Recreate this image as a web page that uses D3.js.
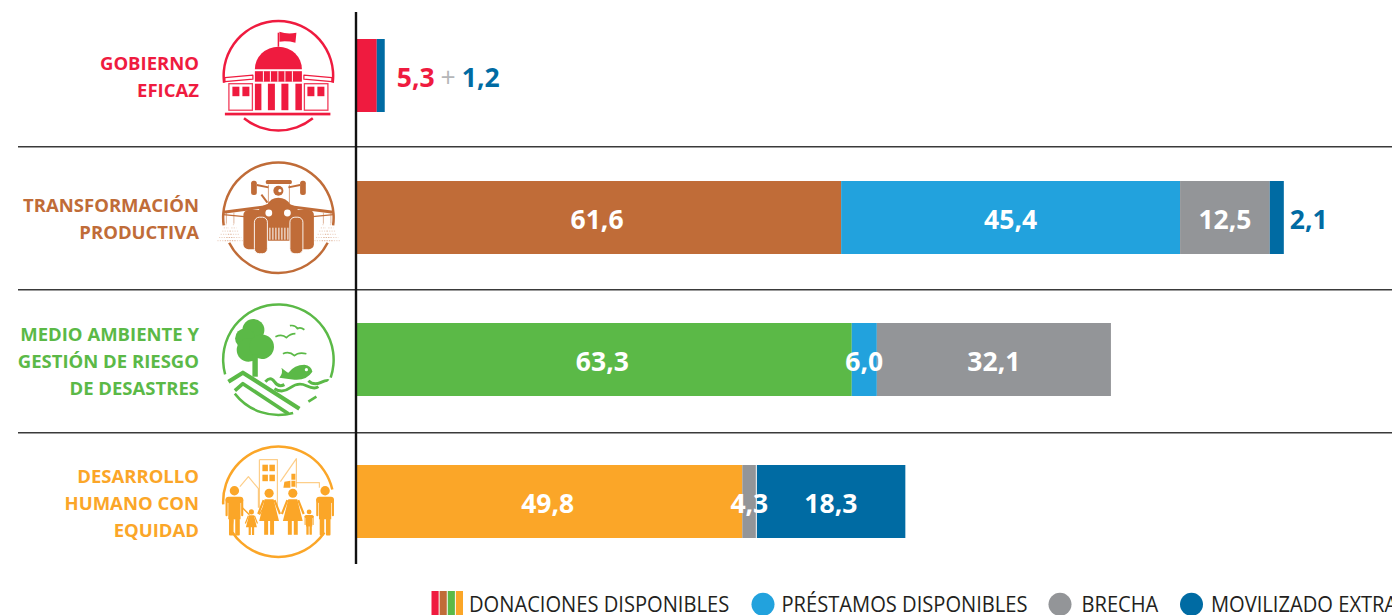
<!DOCTYPE html>
<html>
<head>
<meta charset="utf-8">
<script src="https://cdn.jsdelivr.net/npm/d3@7"></script>
<style>
  html, body { margin: 0; padding: 0; background: #fff; overflow: hidden; }
  svg { display: block; font-family: "Open Sans", sans-serif; }
</style>
</head>
<body>
<svg id="chart"></svg>
<script>
const categories = ["gobierno", "transformacion", "medio", "desarrollo"];
const categoryLines = [
  ["GOBIERNO", "EFICAZ"],
  ["TRANSFORMACIÓN", "PRODUCTIVA"],
  ["MEDIO AMBIENTE Y", "GESTIÓN DE RIESGO", "DE DESASTRES"],
  ["DESARROLLO", "HUMANO CON", "EQUIDAD"]
];
const categoryColors = ["#ef1b3f", "#c06c38", "#5bb947", "#fba628"];

// printed values
const donaciones = [5.3, 61.6, 63.3, 49.8];
const prestamos = [0, 45.4, 6.0, 0];
const brecha = [0, 12.5, 32.1, 4.3];
const movilizado = [1.2, 2.1, 0, 18.3];

// the bars in the original are not drawn to the printed numbers, these are the
// lengths as they read off the picture, same units
const donacionesBar = [2.6, 63.7, 65.1, 50.7];
const prestamosBar = [0, 44.6, 3.3, 0];
const brechaBar = [0, 11.8, 30.8, 1.85];
const movilizadoBar = [1.05, 1.85, 0, 19.6];

const legendLabels = ["DONACIONES DISPONIBLES", "PRÉSTAMOS DISPONIBLES", "BRECHA", "MOVILIZADO EXTRA"];

const blue = "#22a2dd", gray = "#939598", darkBlue = "#006ba3";

const width = 1392;
const height = 615;
const svg = d3.select("#chart").attr("width", width).attr("height", height).attr("viewBox", `0 0 ${width} ${height}`);

const x = d3.scaleLinear().domain([0, 130]).range([357, 357 + 130 * 7.6]);
const y = d3.scaleBand().domain(categories).range([39, 538]).paddingInner(69 / 142);
const rowCenter = (c) => y(c) + y.bandwidth() / 2;

const comma = d3.formatLocale({ decimal: ",", thousands: ".", grouping: [3], currency: ["", ""] }).format(".1f");

const rows = categories.map((c, i) => ({
  category: c,
  donaciones: donacionesBar[i],
  prestamos: prestamosBar[i],
  brecha: brechaBar[i],
  movilizado: movilizadoBar[i]
}));
const printed = { donaciones, prestamos, brecha, movilizado };
const stacked = d3.stack().keys(["donaciones", "prestamos", "brecha", "movilizado"])(rows);
const keyColor = { prestamos: blue, brecha: gray, movilizado: darkBlue };

// row rules and the zero line
svg.append("g").selectAll("line")
  .data(categories.slice(0, 3))
  .join("line")
  .attr("x1", 18).attr("x2", width)
  .attr("y1", (d, i) => y(d) + y.bandwidth() + 34.7 + i)
  .attr("y2", (d, i) => y(d) + y.bandwidth() + 34.7 + i)
  .attr("stroke", "#3a3a3a").attr("stroke-width", 1.5);

// bars
const barGroup = svg.append("g");
stacked.forEach((layer) => {
  barGroup.append("g").selectAll("rect")
    .data(layer)
    .join("rect")
    .attr("x", (d) => x(d[0]))
    .attr("y", (d) => y(d.data.category))
    .attr("width", (d) => x(d[1]) - x(d[0]))
    .attr("height", y.bandwidth())
    .attr("fill", (d, i) => keyColor[layer.key] || categoryColors[i]);
});

// thin light seam between brecha and movilizado in the last row
const seam = stacked[3][3][0];
svg.append("line")
  .attr("x1", x(seam)).attr("x2", x(seam))
  .attr("y1", y("desarrollo")).attr("y2", y("desarrollo") + y.bandwidth())
  .attr("stroke", "#dfe6ea").attr("stroke-width", 1.2);

svg.append("line")
  .attr("x1", 356).attr("x2", 356).attr("y1", 12).attr("y2", 564)
  .attr("stroke", "#111").attr("stroke-width", 2.4);

// value labels inside the bars
stacked.forEach((layer) => {
  layer.forEach((d, i) => {
    const value = printed[layer.key][i];
    if (!value || i === 0) return;
    if (layer.key === "movilizado" && i === 1) return;
    svg.append("text")
      .attr("x", (x(d[0]) + x(d[1])) / 2 + (layer.key === "donaciones" ? -2 : 0))
      .attr("y", rowCenter(d.data.category) + 11)
      .attr("text-anchor", "middle")
      .attr("fill", "#fff")
      .attr("font-size", 26.5).attr("font-weight", 700)
      .text(comma(value));
  });
});

// outside labels
const outside1 = svg.append("text")
  .attr("x", x(stacked[3][0][1]) + 12)
  .attr("y", rowCenter("gobierno") + 11)
  .attr("font-size", 26.5).attr("font-weight", 700);
outside1.append("tspan").attr("fill", categoryColors[0]).text(comma(donaciones[0]));
outside1.append("tspan").attr("fill", "#b5b6b8").attr("font-weight", 400).attr("dx", 6).text("+");
outside1.append("tspan").attr("fill", darkBlue).attr("dx", 6).text(comma(movilizado[0]));

svg.append("text")
  .attr("x", x(stacked[3][1][1]) + 6)
  .attr("y", rowCenter("transformacion") + 11)
  .attr("fill", darkBlue)
  .attr("font-size", 26.5).attr("font-weight", 700)
  .text(comma(movilizado[1]));

// category names
categories.forEach((c, i) => {
  const lines = categoryLines[i];
  lines.forEach((line, j) => {
    svg.append("text")
      .attr("x", 199)
      .attr("y", rowCenter(c) + 8 - (lines.length - 1) * 13.5 + j * 27)
      .attr("text-anchor", "end")
      .attr("fill", categoryColors[i])
      .attr("font-size", 18.5).attr("font-weight", 700)
      .text(line);
  });
});

// icons, local coordinates around the circle centre
function arc(g, color, r, a0, a1) {
  g.append("path")
    .attr("d", d3.arc().innerRadius(r - 1.5).outerRadius(r + 1)({ startAngle: a0, endAngle: a1 }))
    .attr("fill", color);
}
function box(g, x0, y0, x1, y1, fill, rx) {
  return g.append("rect").attr("x", x0).attr("y", y0).attr("width", x1 - x0).attr("height", y1 - y0)
    .attr("fill", fill).attr("rx", rx || 0);
}
function stroke(g, d, color, w, opacity) {
  return g.append("path").attr("d", d).attr("fill", "none").attr("stroke", color)
    .attr("stroke-width", w).attr("opacity", opacity || 1)
    .attr("stroke-linejoin", "round");
}

function iconGobierno(g, c) {
  arc(g, c, 55, -1.7, 1.7);
  arc(g, c, 55, Math.PI - 0.68, Math.PI + 0.68);
  stroke(g, "M0,-29V-43", c, 1.5);
  g.append("path").attr("d", "M1,-44Q9,-41 18,-43L17,-33Q9,-35 1,-34Z").attr("fill", c);
  g.append("path").attr("d", "M-23.5,-6.5A23.5,22.5 0 0 1 23.5,-6.5Z").attr("fill", c);
  box(g, -23.5, -4.5, 23.5, 6, c);
  [-15.5, -8.5, -1, 6, 13.5].forEach((v) => box(g, v, -4.5, v + 1, 6, "#fff"));
  [[-23.5, -17], [-10.5, -3.5], [3, 10], [17, 23.5]].forEach((v) => box(g, v[0], 8, v[1], 34.5, c));
  box(g, -53.5, 37, 52, 39.7, c);
  [1, -1].forEach((s) => {
    stroke(g, `M${s * -53.5},2L${s * -25.5},-0.5V3.5L${s * -53.5},6Z`, c, 1.2);
    g.append("rect").attr("x", s > 0 ? -49.5 : 26).attr("y", 8).attr("width", 23.5).attr("height", 26.5)
      .attr("fill", "#fff").attr("stroke", c).attr("stroke-width", 1.3).attr("opacity", 0.85);
    box(g, s > 0 ? -46 : 29, 11, s > 0 ? -39 : 36, 20.5, c);
    box(g, s > 0 ? -36 : 39, 11, s > 0 ? -29 : 46, 20.5, c);
  });
}

function iconTransformacion(g, c) {
  arc(g, c, 55.5, -1.71, 1.71);
  arc(g, c, 55.5, Math.PI - 1.1, Math.PI + 1.1);
  // sprayers
  [-52, -44.5, 45, 52.5].forEach((v) => {
    stroke(g, `M${v},-5V6`, c, 1, 0.5);
    d3.range(0, 6).forEach((k) => {
      const half = 1 + k * 1.6;
      stroke(g, `M${v - half},${7 + k * 3.2}H${v + half}`, c, 0.8, 0.4).attr("stroke-dasharray", "1.2 1.2");
    });
  });
  // boom
  stroke(g, "M-55,-5.5L-12,-11", c, 3);
  stroke(g, "M55,-5.5L12,-11", c, 3);
  stroke(g, "M-55,-3L-34,-1", c, 1.3);
  stroke(g, "M55,-3L34,-1", c, 1.3);
  // cab
  box(g, -12.6, -37.7, 13.4, -33.7, c, 1.5);
  box(g, -27.3, -37, -21.6, -22.7, c, 2.5);
  box(g, 21.7, -37, 27.4, -22.7, c, 2.5);
  stroke(g, "M-21.6,-32.7L-10,-30.3M21.7,-32.7L10,-30.3", c, 1.8);
  stroke(g, "M-10,-33V-12M11,-33V-12", c, 0.9, 0.7);
  g.append("circle").attr("cx", 0).attr("cy", -27).attr("r", 5).attr("fill", c);
  g.append("circle").attr("cx", 1.5).attr("cy", -27).attr("r", 1.6).attr("fill", "#fff");
  g.append("path").attr("d", "M-11,-13Q-8,-20 0,-20Q8,-20 12,-13Z").attr("fill", c);
  stroke(g, "M-17,-23L-11,-15", c, 2);
  // wheels and body
  box(g, -35, -7.7, -15, 31.6, c, 5);
  box(g, 15, -7.7, 35.5, 31.6, c, 5);
  g.append("path").attr("d", "M-21,10V-4Q-19,-15 0,-15Q19,-15 21,-4V10L17,23H-17Z").attr("fill", c);
  g.append("circle").attr("cx", -9.6).attr("cy", -4.7).attr("r", 3.4).attr("fill", "#fff");
  g.append("circle").attr("cx", 9).attr("cy", -4.7).attr("r", 3.4).attr("fill", "#fff");
  d3.range(-9, 10, 3).forEach((v) => box(g, v, 10, v + 1, 22, "#fff"));
  box(g, -24, -0.5, -11, 36, c, 5).attr("stroke", "#fff").attr("stroke-width", 0.9);
  box(g, 11.5, -0.5, 24.5, 36, c, 5).attr("stroke", "#fff").attr("stroke-width", 0.9);
}

function iconMedio(g, c) {
  arc(g, c, 55.5, -1.84, 1.9);
  arc(g, c, 55.5, Math.PI - 0.27, Math.PI + 0.91);
  // tree
  [[-25, -29.7, 11], [-33.3, -21.3, 10], [-30, -9.7, 11.7], [-16.7, -13, 12.3]].forEach((t) => {
    g.append("circle").attr("cx", t[0]).attr("cy", t[1]).attr("r", t[2]).attr("fill", c);
  });
  box(g, -26, -5, -20.6, 17, c);
  // birds
  stroke(g, "M11.5,-34Q17,-35 19,-31Q22,-33 26,-30", c, 1.7);
  stroke(g, "M-3,-23Q4,-26 8,-22Q12,-26 17,-26", c, 1.7);
  stroke(g, "M4.5,-6Q11,-9 16,-4Q20,-8 28,-6", c, 1.7);
  // hills
  stroke(g, "M-50,22L-35.5,13L21,49", c, 4.2);
  stroke(g, "M-43.5,31L-35.5,24L10,54", c, 3.6);
  // water
  stroke(g, "M-13,22Q-8,16 -4,22T6,25", c, 3);
  stroke(g, "M-4,29Q4,34 12,28T28,26T40,27", c, 2.8);
  stroke(g, "M30,21Q35,26 42,23T50,21", c, 3);
  stroke(g, "M30,42L38,37", c, 2.6);
  // fish
  g.append("path").attr("d", "M1,18Q5,13 3,8Q9,13 10,13Q16,5 26,5Q33,6 34,12Q28,21 16,20Q8,19 1,18Z").attr("fill", c);
  g.append("circle").attr("cx", 28).attr("cy", 10).attr("r", 1.6).attr("fill", "#fff");
}

function person(g, c, cx, top, female, scale) {
  const s = scale || 1;
  const p = g.append("g").attr("transform", `translate(${cx},${top}) scale(${s})`);
  p.append("circle").attr("cy", 0).attr("r", 4.6).attr("fill", c);
  if (female) {
    p.append("path").attr("d", "M-4.5,6H4.5L10,28H-10Z").attr("fill", c);
    stroke(p, "M-5.5,7L-11,21M5.5,7L11,21", c, 2.2);
    box(p, -5, 27, -1, 42, c);
    box(p, 1, 27, 5, 42, c);
  } else {
    box(p, -8.7, 6, 8.7, 12, c, 3);
    box(p, -6, 8, 6, 28, c);
    box(p, -8.7, 8, -6.6, 25, c, 1);
    box(p, 6.6, 8, 8.7, 25, c, 1);
    box(p, -5.3, 26, -0.8, 44, c, 1);
    box(p, 0.8, 26, 5.3, 44, c, 1);
  }
}

function iconDesarrollo(g, c) {
  arc(g, c, 55.5, -1.62, 1.35);
  arc(g, c, 55.5, Math.PI - 0.98, Math.PI + 0.98);
  const tint = 0.55;
  stroke(g, "M-38.5,-15L-30,-25L-20,-13V6", c, 1.2, tint);
  stroke(g, "M-19,-42H-1V6M-19,-42V6", c, 1.2, tint);
  [[-16, -37], [-9, -37], [-16, -27], [-9, -27]].forEach((w) => box(g, w[0], w[1], w[0] + 5.5, w[1] + 6.5, c));
  stroke(g, "M2,-20L18,-43V-14", c, 1.2, tint);
  g.append("path").attr("d", "M6,-20L12,-21V-14H5Z").attr("fill", c);
  g.append("path").attr("d", "M13,-28H17V-22H13ZM13,-21H17V-15H13Z").attr("fill", c);
  stroke(g, "M18,-19H41V-14", c, 1.2, tint);
  stroke(g, "M-46,24L-41,2", c, 1, tint);
  person(g, c, -44, -11, false, 1.02);
  person(g, c, 14.4, -8.5, true, 0.99);
  person(g, c, -9.3, -8.5, true, 0.99);
  person(g, c, -27, 10.2, true, 0.55);
  person(g, c, 30.7, 10.2, false, 0.52);
  person(g, c, 46.7, -11, false, 1.02);
  stroke(g, "M-36,6L-29,13M-19,13L-15,6", c, 1.4);
}

const icons = [iconGobierno, iconTransformacion, iconMedio, iconDesarrollo];
categories.forEach((c, i) => {
  const g = svg.append("g").attr("transform", `translate(278.4,${rowCenter(c) + 0.2})`);
  icons[i](g, categoryColors[i]);
});

// legend
const legendY = 604.3;
const stripes = d3.scaleBand().domain(categoryColors).range([431.5, 463]).paddingInner(0.12);
svg.append("g").selectAll("rect")
  .data(categoryColors)
  .join("rect")
  .attr("x", (d) => stripes(d))
  .attr("y", 591)
  .attr("width", stripes.bandwidth())
  .attr("height", 24)
  .attr("fill", (d) => d);

svg.append("g").selectAll("circle")
  .data([[763, blue], [1060, gray], [1191.5, darkBlue]])
  .join("circle")
  .attr("cx", (d) => d[0]).attr("cy", legendY).attr("r", 11.5)
  .attr("fill", (d) => d[1]);

[469, 781.5, 1081.5, 1211].forEach((lx, i) => {
  svg.append("text")
    .attr("transform", `translate(${lx},612.3) scale(0.915,1)`)
    .attr("fill", "#231f20")
    .attr("font-size", 22)
    .text(legendLabels[i]);
});
</script>
</body>
</html>
